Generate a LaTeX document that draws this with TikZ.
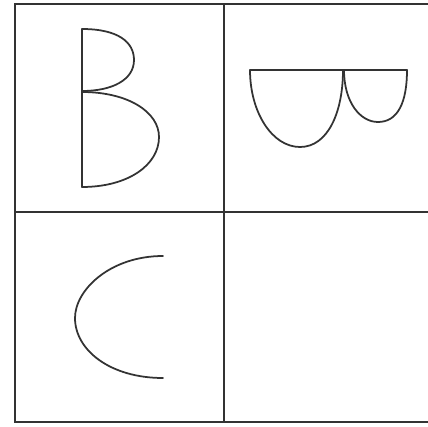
\documentclass[tikz,border=0pt]{standalone}
\usepackage{tikz}
\definecolor{ink}{HTML}{333333}

\begin{document}
\begin{tikzpicture}[x=0.03cm,y=-0.03cm,
    gridline/.style={ink,line width=2pt},
    glyph/.style={ink,line width=1.5pt,line cap=round,line join=round}]
  \useasboundingbox (0,0) rectangle (428,426);
  \clip (0,0) rectangle (428,426);
  % grid
  \draw[gridline] (15,4) rectangle (440,422);
  \draw[gridline] (224,4) -- (224,422);
  \draw[gridline] (15,212) -- (440,212);
  % upper left letter
  \draw[glyph] (82,29) -- (82,187);
  \draw[glyph] (82,29) .. controls (118,29) and (134,42) .. (134,60)
    .. controls (134,80) and (112,91) .. (82,91);
  \draw[glyph] (82,92) .. controls (128,92) and (159,112) .. (159,137)
    .. controls (159,165) and (128,187) .. (82,187);
  % upper right letter, turned
  \draw[glyph] (250,70) -- (407,70);
  \draw[glyph] (250,70) .. controls (250,112) and (272,147) .. (300,147)
    .. controls (328,147) and (343,112) .. (343,70);
  \draw[glyph] (344,70) .. controls (344,102) and (360,122) .. (378,122)
    .. controls (398,122) and (407,102) .. (407,70);
  % lower left arc
  \draw[glyph] (163,256) .. controls (110,256) and (75,290) .. (75,318)
    .. controls (75,350) and (110,378) .. (163,378);
\end{tikzpicture}
\end{document}
